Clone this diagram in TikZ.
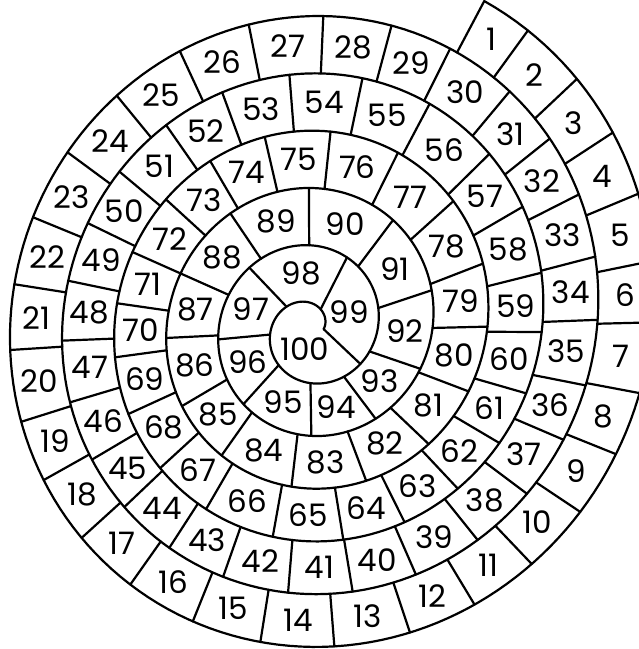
\documentclass[tikz,border=0pt]{standalone}
\usepackage{fontspec}
\setmainfont{Poppins}
\pgfmathdeclarefunction{spR}{1}{\pgfmathparse{(352.4-0.1508*#1)*(1+0.014*cos(2*#1)+0.0171*sin(2*#1))}}
\pgfmathdeclarefunction{spX}{1}{\pgfmathparse{318-0.004*(#1-240)+spR(#1)*sin(#1)}}
\pgfmathdeclarefunction{spY}{1}{\pgfmathparse{317.5+0.0064*(#1-240)-spR(#1)*cos(#1)}}
\tikzset{
  wall/.style={line width=2.2pt, line join=round, line cap=round},
  lbl/.style={font=\fontsize{31}{31}\selectfont, inner sep=0pt}
}
\begin{document}
\begin{tikzpicture}[x=1pt,y=-1pt]
\fill[white] (0,0) rectangle (639,649);
\useasboundingbox (0,0) rectangle (639,649);
\clip (0,0) rectangle (639,649);
% spiral wall
\draw[wall] plot[variable=\t, domain=27.7:2245, samples=1100] ({spX(\t)},{spY(\t)});
% dividers
\foreach \a in {27.7,36.2,47.4,58.0,69.0,80.55,91.0,103.4,114.8,126.7,139.2,151.5,163.8,177.2,190.1,202.4,215.1,227.0,239.35,250.65,264.0,276.3,289.45,303.5,317.9,332.7,346.8,361.1,374.2,386.2,400.25,412.25,424.6,437.4,450.2,463.9,476.1,489.75,503.95,518.8,532.5,546.0,560.0,572.85,585.75,598.1,611.5,625.35,639.0,653.0,667.05,682.45,697.6,713.8,730.85,747.65,766.1,781.1,797.9,812.75,828.9,843.5,859.6,876.05,892.7,911.2,930.25,946.7,963.8,980.05,995.5,1011.1,1029.6,1047.1,1064.95,1084.76,1106.1,1128.7,1150.5,1171.05,1193.7,1216.4,1241.6,1267.85,1295.1,1318.2,1344.8,1371.1,1403.35,1438.2,1477.2,1513.4,1551.75,1585.8,1620.6,1661.6,1702.4,1753.55,1826.7}{
  \pgfmathsetmacro\ox{spX(\a)}\pgfmathsetmacro\oy{spY(\a)}
  \pgfmathsetmacro\ix{spX(\a+360)}\pgfmathsetmacro\iy{spY(\a+360)}
  \coordinate (o) at (\ox,\oy);
  \coordinate (i) at (\ix,\iy);
  \draw[wall] (o) -- (i);
}
% closing line of the centre
\pgfmathsetmacro\nx{spX(2245)}\pgfmathsetmacro\ny{spY(2245)}
\pgfmathsetmacro\ex{spX(1926)}\pgfmathsetmacro\ey{spY(1926)}
\coordinate (notch) at (\nx,\ny);
\coordinate (endo) at (\ex,\ey);
\draw[wall] (notch) -- (endo);
% labels
\foreach \k/\a/\b in {1/27.7/36.2,2/36.2/47.4,3/47.4/58.0,4/58.0/69.0,5/69.0/80.55,6/80.55/91.0,7/91.0/103.4,8/103.4/114.8,9/114.8/126.7,10/126.7/139.2,11/139.2/151.5,12/151.5/163.8,13/163.8/177.2,14/177.2/190.1,15/190.1/202.4,16/202.4/215.1,17/215.1/227.0,18/227.0/239.35,19/239.35/250.65,20/250.65/264.0,21/264.0/276.3,22/276.3/289.45,23/289.45/303.5,24/303.5/317.9,25/317.9/332.7,26/332.7/346.8,27/346.8/361.1,28/361.1/374.2,29/374.2/386.2,30/386.2/400.25,31/400.25/412.25,32/412.25/424.6,33/424.6/437.4,34/437.4/450.2,35/450.2/463.9,36/463.9/476.1,37/476.1/489.75,38/489.75/503.95,39/503.95/518.8,40/518.8/532.5,41/532.5/546.0,42/546.0/560.0,43/560.0/572.85,44/572.85/585.75,45/585.75/598.1,46/598.1/611.5,47/611.5/625.35,48/625.35/639.0,49/639.0/653.0,50/653.0/667.05,51/667.05/682.45,52/682.45/697.6,53/697.6/713.8,54/713.8/730.85,55/730.85/747.65,56/747.65/766.1,57/766.1/781.1,58/781.1/797.9,59/797.9/812.75,60/812.75/828.9,61/828.9/843.5,62/843.5/859.6,63/859.6/876.05,64/876.05/892.7,65/892.7/911.2,66/911.2/930.25,67/930.25/946.7,68/946.7/963.8,69/963.8/980.05,70/980.05/995.5,71/995.5/1011.1,72/1011.1/1029.6,73/1029.6/1047.1,74/1047.1/1064.95,75/1064.95/1084.76,76/1084.76/1106.1,77/1106.1/1128.7,78/1128.7/1150.5,79/1150.5/1171.05,80/1171.05/1193.7,81/1193.7/1216.4,82/1216.4/1241.6,83/1241.6/1267.85,84/1267.85/1295.1,85/1295.1/1318.2,86/1318.2/1344.8,87/1344.8/1371.1,88/1371.1/1403.35,89/1403.35/1438.2,90/1438.2/1477.2,91/1477.2/1513.4,92/1513.4/1551.75,93/1551.75/1585.8,94/1585.8/1620.6,95/1620.6/1661.6,96/1661.6/1702.4,97/1702.4/1753.55,98/1753.55/1826.7}{
  \pgfmathsetmacro\m{(\a+\b)/2}
  \pgfmathsetmacro\lx{(spX(\m)+spX(\m+360))/2}
  \pgfmathsetmacro\ly{(spY(\m)+spY(\m+360))/2}
  \node[lbl] (c\k) at (\lx,\ly) {\k};
}
\node[lbl] (c99) at (349,312) {99};
\node[lbl] (c100) at (305,349) {100};
\end{tikzpicture}
\end{document}
